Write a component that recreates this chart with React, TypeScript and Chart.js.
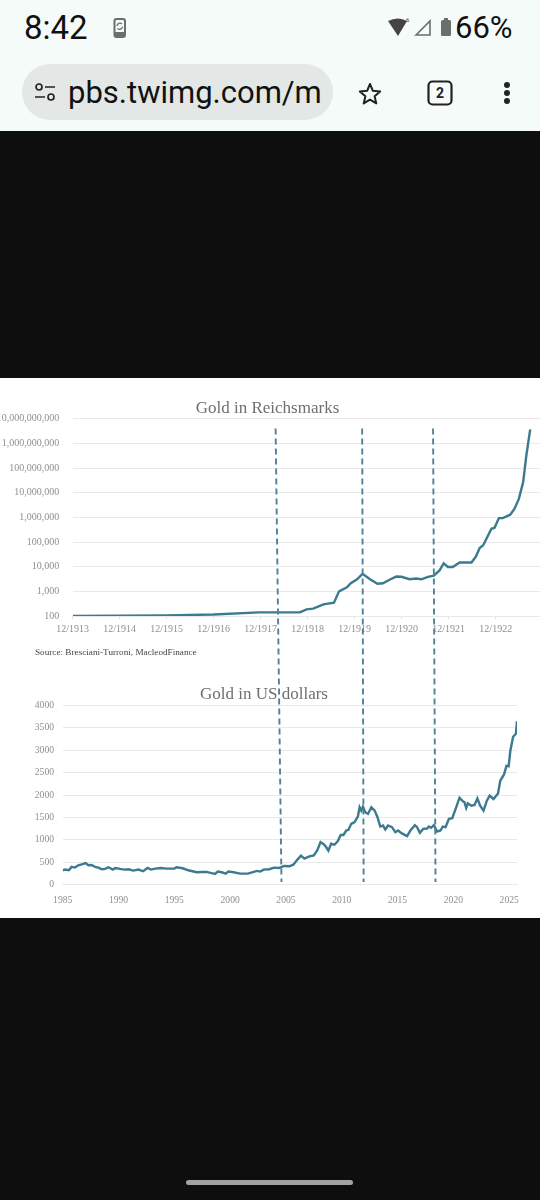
import React, { useEffect, useRef } from "react";
import { Chart, registerables } from "chart.js";

Chart.register(...registerables);

const SERIF = '"Liberation Serif", serif';
const LINE = "#3c7a90";
const GUIDE = "#4d8297";
const AXIS_TEXT = "#8f8f8f";
const GRID = "#e9e9e9";

// Months since 12/1913, and the gold price in Reichsmarks
const markMonths = [0, 12, 24, 36, 47.6, 58, 59.7, 61.4, 64, 66.7, 68, 70, 71, 72.6, 74, 75.9, 77.8, 79.2, 81, 82.6, 83.9, 86, 87.7, 89, 90.7, 92.2, 93.7, 94.7, 95.8, 97, 98.8, 101.8, 102.9, 103.9, 104.8, 106.9, 107.7, 108.8, 109.8, 111.7, 112.8, 113.9, 115, 115.8, 116.8];
const markValues = [100, 102, 106, 115, 140, 140, 186, 198, 295, 347, 1000, 1450, 2140, 3100, 5130, 3100, 2040, 2140, 3020, 3980, 3890, 3090, 3310, 3090, 3890, 4370, 7240, 13800, 9770, 9770, 14800, 14800, 25100, 57500, 74100, 347000, 380000, 933000, 933000, 1290000, 2240000, 5620000, 26900000, 316000000, 3720000000];
const markTickLabels = ["12/1913", "12/1914", "12/1915", "12/1916", "12/1917", "12/1918", "12/1919", "12/1920", "12/1921", "12/1922"];
const markYTicks = [100, 1000, 10000, 100000, 1000000, 10000000, 100000000, 1000000000, 10000000000];

// Decimal years, and the gold price in US dollars
const usdYears = [1985, 1985.2, 1985.55, 1985.8, 1986.1, 1986.4, 1986.7, 1987.05, 1987.3, 1987.6, 1987.9, 1988.2, 1988.5, 1988.8, 1989.1, 1989.5, 1989.7, 1990.15, 1990.5, 1990.9, 1991.3, 1991.8, 1992.2, 1992.6, 1992.9, 1993.3, 1993.8, 1994.3, 1995, 1995.2, 1995.75, 1996.25, 1997, 1997.45, 1997.9, 1998.25, 1998.65, 1998.9, 1999.25, 1999.6, 1999.85, 2000.3, 2000.9, 2001.6, 2002.4, 2002.7, 2003, 2003.5, 2003.95, 2004.4, 2004.85, 2005.3, 2005.66, 2006.05, 2006.35, 2006.65, 2007.1, 2007.5, 2007.8, 2008.1, 2008.4, 2008.6, 2008.8, 2009.05, 2009.35, 2009.65, 2009.9, 2010.15, 2010.4, 2010.6, 2010.85, 2011.15, 2011.45, 2011.6, 2011.75, 2011.9, 2012.1, 2012.35, 2012.65, 2012.95, 2013.2, 2013.45, 2013.7, 2013.9, 2014.15, 2014.5, 2014.8, 2015.05, 2015.35, 2015.85, 2016.15, 2016.55, 2016.75, 2017, 2017.3, 2017.65, 2017.8, 2018, 2018.25, 2018.55, 2018.85, 2019.05, 2019.3, 2019.6, 2019.9, 2020.25, 2020.55, 2020.85, 2021, 2021.15, 2021.3, 2021.6, 2021.9, 2022.15, 2022.4, 2022.7, 2023, 2023.25, 2023.6, 2024, 2024.2, 2024.55, 2024.75, 2024.95, 2025.1, 2025.35, 2025.6, 2025.7];
const usdValues = [315, 333, 318, 393, 378, 430, 452, 481, 430, 437, 393, 378, 340, 348, 385, 333, 370, 348, 333, 340, 311, 333, 296, 370, 333, 355, 370, 355, 355, 385, 363, 318, 274, 281, 281, 259, 237, 289, 274, 244, 289, 274, 244, 244, 304, 289, 333, 341, 378, 370, 415, 407, 444, 563, 644, 578, 630, 652, 763, 948, 896, 837, 756, 911, 889, 970, 1107, 1107, 1207, 1222, 1356, 1393, 1526, 1726, 1652, 1741, 1615, 1578, 1726, 1652, 1504, 1296, 1319, 1230, 1319, 1282, 1170, 1207, 1148, 1081, 1207, 1326, 1281, 1156, 1244, 1252, 1296, 1267, 1326, 1185, 1207, 1296, 1281, 1467, 1481, 1726, 1941, 1859, 1837, 1711, 1815, 1763, 1778, 1926, 1763, 1652, 1874, 1985, 1911, 2037, 2319, 2467, 2652, 2644, 2985, 3304, 3370, 3652];
const usdYTicks = [0, 500, 1000, 1500, 2000, 2500, 3000, 3500, 4000];
const usdXTicks = [1985, 1990, 1995, 2000, 2005, 2010, 2015, 2020, 2025];

// Where each dashed guide meets the two charts
const guideMonths = [51.8, 73.9, 92];
const guideYears = [2004.6, 2011.96, 2018.4];
const guideTopValue = 4000000000;
const guideBottomValue = 58;

const MONTHS_PER_TICK = 12;
const SOFT = "blur(0.45px)";

function setTicks(values: number[]) {
  return (scale: any) => {
    scale.ticks = values.map((value) => ({ value }));
  };
}

function fixedWidth(width: number) {
  return (scale: any) => {
    scale.width = width;
  };
}

function fixedHeight(height: number) {
  return (scale: any) => {
    scale.height = height;
  };
}

const box = (left: number, top: number, width: number, height: number): React.CSSProperties => ({
  position: "absolute",
  left,
  top,
  width,
  height,
});

export default function App() {
  const markRef = useRef<HTMLCanvasElement>(null);
  const usdRef = useRef<HTMLCanvasElement>(null);
  const guideRef = useRef<HTMLCanvasElement>(null);

  useEffect(() => {
    document.body.style.margin = "0";
    document.body.style.background = "#0e0e0e";
    const titleFont = { family: SERIF, size: 17, weight: "normal" as const };

    const markChart = new Chart(markRef.current!, {
      type: "line",
      data: {
        datasets: [
          {
            data: markMonths.map((x, i) => ({ x, y: markValues[i] })),
            borderColor: LINE,
            borderWidth: 2.4,
            pointRadius: 0,
            tension: 0,
          },
        ],
      },
      options: {
        animation: false,
        responsive: false,
        plugins: {
          legend: { display: false },
          tooltip: { enabled: false },
          title: {
            display: true,
            text: "Gold in Reichsmarks",
            color: "#6f6f6f",
            font: titleFont,
            padding: { top: 20, bottom: 0.4 },
          },
        },
        scales: {
          x: {
            type: "linear",
            min: 0,
            max: 119.3,
            afterBuildTicks: setTicks(markTickLabels.map((_, i) => i * MONTHS_PER_TICK)),
            afterFit: fixedHeight(24),
            grid: { drawOnChartArea: false, tickLength: 3, color: "#dddddd" },
            border: { color: GRID },
            ticks: {
              autoSkip: false,
              maxRotation: 0,
              padding: 4.5,
              color: AXIS_TEXT,
              font: { family: SERIF, size: 10 },
              callback: (v: any) => markTickLabels[Math.round(Number(v) / MONTHS_PER_TICK)],
            },
          },
          y: {
            type: "logarithmic",
            min: 100,
            max: 10000000000,
            afterBuildTicks: setTicks(markYTicks),
            afterFit: fixedWidth(77.7),
            grid: { color: GRID, drawTicks: false },
            border: { display: false },
            ticks: {
              autoSkip: false,
              padding: 13.5,
              color: AXIS_TEXT,
              font: { family: SERIF, size: 10 },
              callback: (v: any) => Number(v).toLocaleString("en-US"),
            },
          },
        },
      },
    });

    const usdChart = new Chart(usdRef.current!, {
      type: "line",
      data: {
        datasets: [
          {
            data: usdYears.map((x, i) => ({ x, y: usdValues[i] })),
            borderColor: LINE,
            borderWidth: 2.4,
            pointRadius: 0,
            tension: 0,
          },
        ],
      },
      options: {
        animation: false,
        responsive: false,
        layout: { padding: { right: 14 } },
        plugins: {
          legend: { display: false },
          tooltip: { enabled: false },
          title: {
            display: true,
            text: "Gold in US dollars",
            color: "#6f6f6f",
            font: titleFont,
            padding: { top: 12.4, bottom: 0.8 },
          },
        },
        scales: {
          x: {
            type: "linear",
            min: 1985,
            max: 2025.7,
            afterBuildTicks: setTicks(usdXTicks),
            afterFit: fixedHeight(27.5),
            grid: { display: false },
            border: { color: GRID },
            ticks: {
              autoSkip: false,
              maxRotation: 0,
              padding: 2,
              color: AXIS_TEXT,
              font: { family: SERIF, size: 9.6 },
              callback: (v: any) => String(v),
            },
          },
          y: {
            type: "linear",
            min: 0,
            max: 4000,
            afterBuildTicks: setTicks(usdYTicks),
            afterFit: fixedWidth(51.7),
            grid: { color: GRID, drawTicks: false },
            border: { display: false },
            ticks: {
              autoSkip: false,
              padding: 8.7,
              color: AXIS_TEXT,
              font: { family: SERIF, size: 9.6 },
              callback: (v: any) => String(v),
            },
          },
        },
      },
    });

    // The guides cross both charts, so they sit on a transparent chart above them,
    // with ends read from the two charts' own scales.
    const markBox = markRef.current!.getBoundingClientRect();
    const usdBox = usdRef.current!.getBoundingClientRect();
    const guideBox = guideRef.current!.getBoundingClientRect();
    const guideChart = new Chart(guideRef.current!, {
      type: "line",
      data: {
        datasets: guideMonths.map((month, i) => ({
          data: [
            {
              x: markBox.left - guideBox.left + markChart.scales.x.getPixelForValue(month),
              y: markBox.top - guideBox.top + markChart.scales.y.getPixelForValue(guideTopValue),
            },
            {
              x: usdBox.left - guideBox.left + usdChart.scales.x.getPixelForValue(guideYears[i]),
              y: usdBox.top - guideBox.top + usdChart.scales.y.getPixelForValue(guideBottomValue),
            },
          ],
          borderColor: GUIDE,
          borderWidth: 1.9,
          borderDash: [6, 4],
          pointRadius: 0,
        })),
      },
      options: {
        animation: false,
        responsive: false,
        layout: { padding: 0 },
        plugins: { legend: { display: false }, tooltip: { enabled: false } },
        scales: {
          x: { type: "linear", display: false, min: 0, max: guideBox.width },
          y: { type: "linear", display: false, reverse: true, min: 0, max: guideBox.height },
        },
      },
    });

    return () => {
      guideChart.destroy();
      usdChart.destroy();
      markChart.destroy();
    };
  }, []);

  const ui = '"Roboto", sans-serif';
  return (
    <div style={{ ...box(0, 0, 540, 1200), background: "#0e0e0e", overflow: "hidden", fontFamily: ui }}>
      <div style={{ ...box(0, 0, 540, 131), background: "#f5fbf9" }} />
      <div style={{ ...box(24, 9, 90, 38), fontSize: 33, lineHeight: "38px", color: "#111" }}>8:42</div>
      <svg style={box(112, 17, 16, 22)} viewBox="0 0 16 22">
        <rect x="2.500" y="2" width="10.500" height="18" rx="2" fill="none" stroke="#6a6e6d" strokeWidth="2" />
        <rect x="3" y="15" width="10" height="4" fill="#6a6e6d" />
        <path d="M5 9a3 3 0 0 1 5-2M10.500 9.500a3 3 0 0 1-5 2" fill="none" stroke="#6a6e6d" strokeWidth="1.300" />
      </svg>
      <svg style={box(386, 15, 70, 26)} viewBox="0 0 70 26">
        <path d="M2 6 Q12 1 21 6 L12 21 Z" fill="#444" />
        <text x="20" y="7" fontSize="6" fill="#444" fontFamily={ui}>6</text>
        <path d="M30 20 L44 6 V20 Z" fill="none" stroke="#6a6e6d" strokeWidth="1.600" />
        <rect x="55" y="5" width="10" height="16" rx="1.500" fill="#6a6e6d" />
        <rect x="58" y="3" width="4" height="2" fill="#6a6e6d" />
      </svg>
      <div style={{ ...box(455, 9, 70, 38), fontSize: 31, lineHeight: "38px", color: "#111" }}>66%</div>
      <div style={{ ...box(22, 64, 311, 56), background: "#e3e8e7", borderRadius: 28 }} />
      <svg style={box(33, 82, 24, 22)} viewBox="0 0 24 22">
        <circle cx="6" cy="5" r="3" fill="none" stroke="#222" strokeWidth="1.700" />
        <path d="M12 5h10M2 15h10" stroke="#222" strokeWidth="1.700" />
        <circle cx="18" cy="15" r="3" fill="none" stroke="#222" strokeWidth="1.700" />
      </svg>
      <div style={{ ...box(68, 72, 256, 42), fontSize: 31, lineHeight: "42px", color: "#111", whiteSpace: "nowrap" }}>pbs.twimg.com/m</div>
      <svg style={box(357, 81, 26, 26)} viewBox="0 0 26 26">
        <path d="M13 3l2.900 6.800 7.300.6-5.600 4.800 1.700 7.200L13 18.600l-6.300 3.800 1.700-7.200-5.600-4.800 7.300-.6z" fill="none" stroke="#222" strokeWidth="2" strokeLinejoin="round" />
      </svg>
      <svg style={box(427, 80, 26, 26)} viewBox="0 0 26 26">
        <rect x="1.500" y="1.500" width="23" height="23" rx="4" fill="none" stroke="#222" strokeWidth="2.200" />
        <text x="13" y="18" fontSize="14" fontWeight="700" textAnchor="middle" fill="#222" fontFamily={ui}>2</text>
      </svg>
      <svg style={box(500, 81, 14, 24)} viewBox="0 0 14 24">
        <circle cx="7" cy="4" r="3" fill="#222" />
        <circle cx="7" cy="12" r="3" fill="#222" />
        <circle cx="7" cy="20" r="3" fill="#222" />
      </svg>

      <div style={{ ...box(0, 378, 540, 540), background: "#ffffff" }} />
      <canvas ref={markRef} width={545} height={262} style={{ ...box(-5, 378, 545, 262), filter: SOFT }} />
      <div style={{ ...box(35, 645.5, 220, 12), fontFamily: SERIF, fontSize: 9.200, lineHeight: "12px", color: "#444", whiteSpace: "nowrap", filter: SOFT }}>
        Source: Bresciani-Turroni, MacleodFinance
      </div>
      <canvas ref={usdRef} width={520} height={240} style={{ ...box(11, 672, 520, 240), filter: SOFT }} />
      <canvas ref={guideRef} width={540} height={540} style={{ ...box(0, 378, 540, 540), pointerEvents: "none", filter: SOFT }} />

      <div style={{ ...box(186, 1180, 167, 5), background: "#a3a3a3", borderRadius: 3 }} />
    </div>
  );
}
